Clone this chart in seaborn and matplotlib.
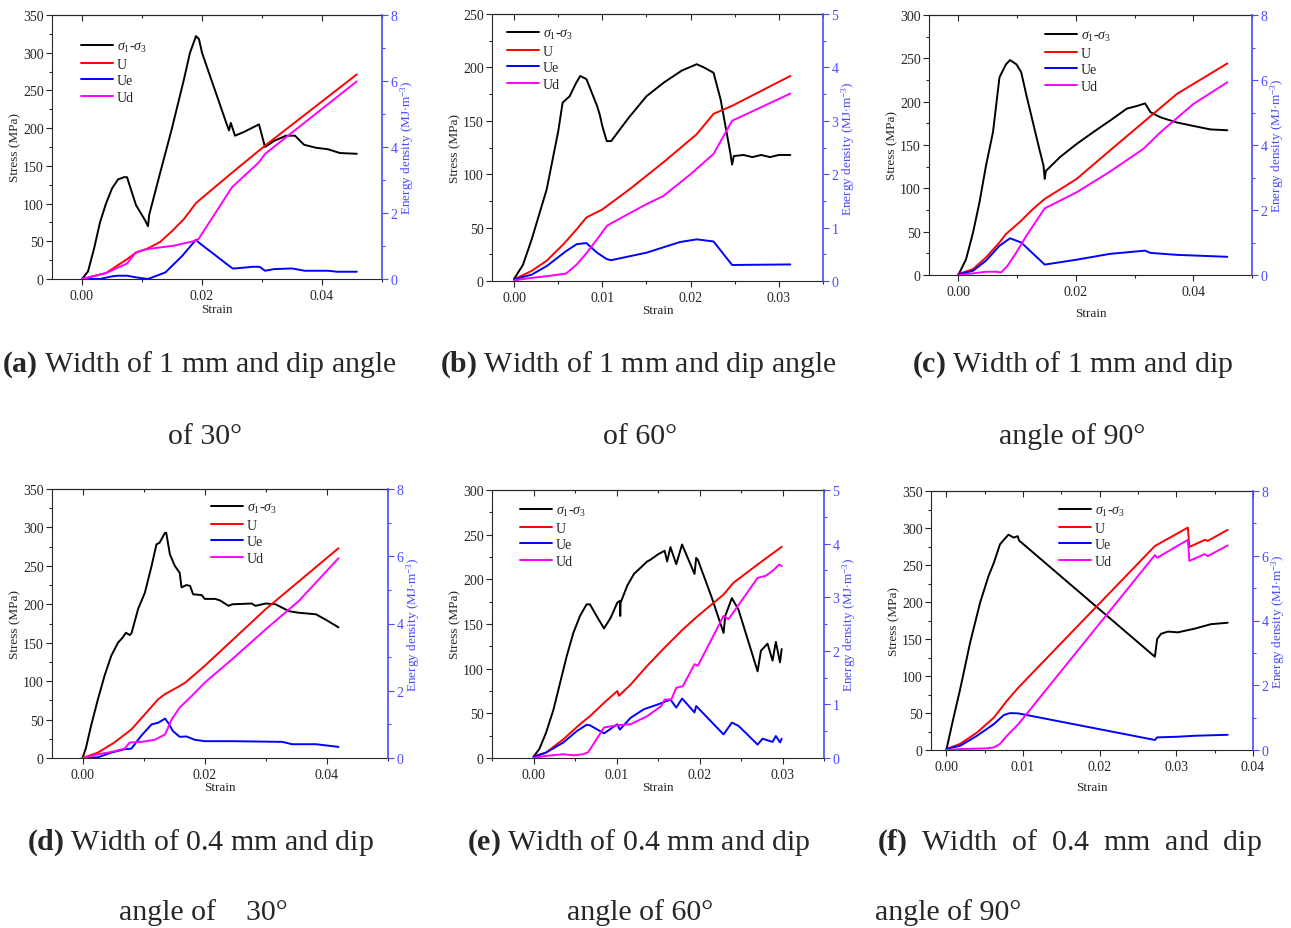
import numpy as np
import pandas as pd
import matplotlib
matplotlib.use("Agg")
import matplotlib.pyplot as plt
from matplotlib.ticker import MultipleLocator, StrMethodFormatter
import seaborn as sns

sns.set_style("ticks")
plt.rcParams['font.family'] = ['Liberation Serif', 'DejaVu Serif']
plt.rcParams['mathtext.fontset'] = 'custom'
plt.rcParams['mathtext.rm'] = 'Liberation Serif'
plt.rcParams['mathtext.it'] = 'Liberation Serif:italic'
plt.rcParams['mathtext.bf'] = 'Liberation Serif:bold'

# ---------------- data ----------------
# (a) width 1 mm, dip 30
a_s_x = [0, 0.001, 0.002, 0.003, 0.004, 0.005, 0.006, 0.007, 0.0075, 0.009, 0.0105, 0.011, 0.0112, 0.013, 0.015, 0.017, 0.018, 0.019, 0.0195, 0.020, 0.022, 0.024, 0.0245, 0.0248, 0.0255, 0.027, 0.0295, 0.0305, 0.032, 0.034, 0.0355, 0.037, 0.039, 0.041, 0.043, 0.0458]
a_s_y = [0, 10, 40, 75, 100, 120, 132, 135, 135, 98, 78, 70, 85, 140, 200, 265, 300, 322, 318, 300, 254, 208, 197, 207, 190, 195, 205, 175, 183, 190, 190, 178, 174, 172, 167, 166]
a_U_x = [0, 0.004, 0.006, 0.0075, 0.009, 0.011, 0.013, 0.015, 0.017, 0.019, 0.0195, 0.025, 0.0305, 0.0458]
a_U = [0, 0.18, 0.42, 0.6, 0.8, 0.93, 1.12, 1.45, 1.82, 2.3, 2.38, 3.22, 4.04, 6.2]
a_Ue_x = [0, 0.003, 0.005, 0.006, 0.0075, 0.009, 0.011, 0.0139, 0.0167, 0.019, 0.0195, 0.0245, 0.0251, 0.0255, 0.0285, 0.0296, 0.0305, 0.032, 0.035, 0.0371, 0.041, 0.0425, 0.0458]
a_Ue = [0, 0, 0.08, 0.1, 0.1, 0.05, 0, 0.2, 0.7, 1.19, 1.1, 0.4, 0.32, 0.32, 0.37, 0.37, 0.25, 0.3, 0.32, 0.25, 0.25, 0.22, 0.22]
a_Ud_x = [0, 0.004, 0.0075, 0.009, 0.011, 0.0153, 0.019, 0.0195, 0.025, 0.0295, 0.0305, 0.0458]
a_Ud = [0, 0.18, 0.47, 0.81, 0.91, 1.01, 1.16, 1.23, 2.78, 3.54, 3.79, 5.99]

# (b) width 1 mm, dip 60
b_s_x = [0, 0.001, 0.002, 0.0037, 0.005, 0.0055, 0.0063, 0.007, 0.0075, 0.0082, 0.0094, 0.0097, 0.010, 0.0105, 0.011, 0.013, 0.015, 0.017, 0.019, 0.0207, 0.0215, 0.0226, 0.0234, 0.0245, 0.0247, 0.0249, 0.026, 0.027, 0.028, 0.029, 0.030, 0.0313]
b_s_y = [2, 15, 39, 86, 140, 167, 173, 185, 192, 189, 164, 156, 145, 131, 131, 153, 173, 186, 197, 203, 200, 195, 170, 120, 109, 117, 118, 116, 118, 116, 118, 118]
b_U_x = [0, 0.002, 0.0037, 0.0056, 0.0071, 0.0082, 0.010, 0.0131, 0.0169, 0.0207, 0.0226, 0.0247, 0.0313]
b_U = [0.03, 0.19, 0.38, 0.69, 0.97, 1.19, 1.34, 1.72, 2.22, 2.75, 3.13, 3.28, 3.84]
b_Ue_x = [0, 0.002, 0.0037, 0.0059, 0.0071, 0.0082, 0.0094, 0.0105, 0.011, 0.015, 0.0188, 0.0207, 0.0226, 0.0247, 0.0313]
b_Ue = [0.03, 0.12, 0.28, 0.56, 0.69, 0.71, 0.53, 0.41, 0.39, 0.53, 0.73, 0.78, 0.74, 0.3, 0.31]
b_Ud_x = [0, 0.002, 0.0037, 0.0059, 0.0071, 0.0082, 0.0094, 0.0105, 0.011, 0.015, 0.0169, 0.020, 0.0226, 0.0247, 0.0313]
b_Ud = [0.01, 0.06, 0.09, 0.14, 0.31, 0.52, 0.78, 1.03, 1.08, 1.44, 1.59, 2.0, 2.38, 3.0, 3.51]

# (c) width 1 mm, dip 90
c_s_x = [0, 0.0013, 0.0025, 0.0036, 0.0047, 0.0059, 0.007, 0.0081, 0.0088, 0.0099, 0.0107, 0.0116, 0.0127, 0.0138, 0.0145, 0.0147, 0.0149, 0.0173, 0.0201, 0.023, 0.0258, 0.0287, 0.0304, 0.0318, 0.0327, 0.0344, 0.0372, 0.040, 0.0429, 0.0458]
c_s_y = [0, 18, 49, 84, 126, 165, 228, 243, 248, 243, 234, 207, 176, 145, 126, 111, 120, 136, 151, 165, 178, 192, 195, 198, 188, 182, 176, 172, 168, 167]
c_U_x = [0, 0.0025, 0.0047, 0.007, 0.0081, 0.0104, 0.0127, 0.0147, 0.0201, 0.0258, 0.0315, 0.0372, 0.0458]
c_U = [0.03, 0.18, 0.54, 1.0, 1.26, 1.62, 2.03, 2.34, 2.95, 3.83, 4.7, 5.57, 6.51]
c_Ue_x = [0, 0.0025, 0.0047, 0.007, 0.0088, 0.0107, 0.0147, 0.0201, 0.0258, 0.0318, 0.0327, 0.0372, 0.0458]
c_Ue = [0.02, 0.13, 0.44, 0.9, 1.13, 1.0, 0.32, 0.47, 0.65, 0.75, 0.68, 0.62, 0.56]
c_Ud_x = [0, 0.0025, 0.0047, 0.0064, 0.0073, 0.0084, 0.0099, 0.0116, 0.0147, 0.0201, 0.0258, 0.0315, 0.0344, 0.040, 0.0458]
c_Ud = [0, 0.05, 0.1, 0.1, 0.08, 0.29, 0.7, 1.21, 2.05, 2.54, 3.18, 3.88, 4.39, 5.26, 5.93]

# (d) width 0.4 mm, dip 30
d_s_x = [0, 0.00055, 0.0014, 0.0025, 0.0036, 0.0047, 0.0058, 0.0066, 0.0071, 0.0077, 0.008, 0.0091, 0.0102, 0.0113, 0.0121, 0.0126, 0.0135, 0.0137, 0.0143, 0.0151, 0.0159, 0.0162, 0.017, 0.0176, 0.0181, 0.0195, 0.020, 0.0217, 0.0225, 0.0239, 0.0245, 0.0277, 0.0283, 0.030, 0.0316, 0.0338, 0.0354, 0.0382, 0.0398, 0.0419]
d_s_y = [0, 13, 42, 76, 107, 133, 150, 157, 163, 160, 162, 194, 215, 250, 278, 280, 293, 293, 265, 250, 241, 222, 225, 224, 213, 212, 207, 207, 205, 198, 200, 201, 198, 201, 200, 191, 189, 187, 180, 170]
d_U_x = [0, 0.0025, 0.0052, 0.008, 0.0102, 0.0124, 0.0135, 0.0157, 0.0168, 0.020, 0.030, 0.0419]
d_U = [0, 0.16, 0.46, 0.85, 1.3, 1.75, 1.9, 2.12, 2.24, 2.74, 4.43, 6.24]
d_Ue_x = [0, 0.0025, 0.0047, 0.0069, 0.008, 0.0096, 0.0113, 0.0124, 0.0135, 0.014, 0.0148, 0.0159, 0.017, 0.0184, 0.020, 0.0245, 0.0327, 0.0343, 0.0382, 0.0419]
d_Ue = [0, 0.02, 0.16, 0.26, 0.28, 0.66, 1.0, 1.05, 1.17, 1.05, 0.8, 0.63, 0.64, 0.54, 0.5, 0.5, 0.48, 0.41, 0.41, 0.33]
d_Ud_x = [0, 0.0025, 0.0047, 0.0069, 0.0077, 0.0096, 0.0118, 0.0135, 0.0146, 0.0159, 0.0179, 0.020, 0.0245, 0.030, 0.0354, 0.0419]
d_Ud = [0, 0.11, 0.18, 0.28, 0.46, 0.48, 0.54, 0.7, 1.15, 1.5, 1.85, 2.24, 2.94, 3.83, 4.67, 5.94]

# (e) width 0.4 mm, dip 60
e_s_x = [0, 0.0007, 0.0015, 0.0024, 0.0032, 0.004, 0.0048, 0.0056, 0.0064, 0.0068, 0.0076, 0.0085, 0.0093, 0.0101, 0.0104, 0.01045, 0.0105, 0.0113, 0.0121, 0.0129, 0.0137, 0.0141, 0.015, 0.0158, 0.0161, 0.0165, 0.0172, 0.0179, 0.0194, 0.0196, 0.0198, 0.0215, 0.0229, 0.0231, 0.0239, 0.0247, 0.027, 0.0274, 0.0282, 0.0288, 0.0292, 0.0297, 0.0299]
e_s_y = [1.5, 10, 28, 54, 84, 114, 140, 159, 172, 172, 159, 145, 157, 174, 176, 159, 174, 193, 206, 213, 220, 222, 228, 232, 220, 236, 217, 239, 206, 224, 222, 179, 140, 159, 179, 166, 97, 120, 128, 109, 130, 107, 122]
e_U_x = [0, 0.0015, 0.0036, 0.0056, 0.0068, 0.0085, 0.0101, 0.0103, 0.0117, 0.0137, 0.0158, 0.018, 0.0198, 0.0229, 0.0241, 0.027, 0.0299]
e_U = [0.03, 0.1, 0.35, 0.63, 0.78, 1.03, 1.25, 1.16, 1.37, 1.72, 2.06, 2.4, 2.65, 3.05, 3.27, 3.61, 3.94]
e_Ue_x = [0, 0.0015, 0.0036, 0.0052, 0.0064, 0.0068, 0.0085, 0.0101, 0.0104, 0.0117, 0.0133, 0.015, 0.0165, 0.0172, 0.0179, 0.0194, 0.0196, 0.0229, 0.0239, 0.0247, 0.027, 0.0276, 0.0288, 0.0292, 0.0297, 0.0299]
e_Ue = [0.02, 0.1, 0.29, 0.5, 0.62, 0.61, 0.46, 0.63, 0.53, 0.75, 0.91, 1.0, 1.09, 0.94, 1.11, 0.85, 0.97, 0.44, 0.66, 0.6, 0.25, 0.36, 0.3, 0.41, 0.29, 0.36]
e_Ud_x = [0, 0.0015, 0.0036, 0.0048, 0.006, 0.0066, 0.0085, 0.0101, 0.0117, 0.0137, 0.0154, 0.0158, 0.0166, 0.0172, 0.018, 0.0194, 0.0198, 0.0229, 0.0235, 0.027, 0.028, 0.0288, 0.0296, 0.0299]
e_Ud = [0, 0.04, 0.07, 0.05, 0.07, 0.11, 0.57, 0.61, 0.63, 0.78, 0.97, 1.09, 1.09, 1.31, 1.34, 1.75, 1.72, 2.65, 2.59, 3.36, 3.4, 3.49, 3.61, 3.58]

# (f) width 0.4 mm, dip 90
f_s_x = [0, 0.0009, 0.0018, 0.0031, 0.0044, 0.0055, 0.0062, 0.007, 0.0075, 0.0081, 0.0088, 0.0093, 0.0095, 0.0272, 0.0275, 0.028, 0.0289, 0.0302, 0.0324, 0.0345, 0.0367]
f_s_y = [0, 42, 82, 145, 199, 235, 253, 278, 284, 291, 287, 289, 283, 126, 150, 157, 160, 159, 164, 170, 172]
f_U_x = [0, 0.0018, 0.004, 0.0062, 0.0079, 0.0094, 0.0272, 0.0315, 0.0317, 0.0337, 0.0341, 0.0367]
f_U = [0.03, 0.19, 0.54, 1.0, 1.52, 1.93, 6.3, 6.87, 6.27, 6.49, 6.46, 6.8]
f_Ue_x = [0, 0.0018, 0.004, 0.0062, 0.0075, 0.0083, 0.0094, 0.0272, 0.0275, 0.0302, 0.0324, 0.0367]
f_Ue = [0.03, 0.13, 0.44, 0.8, 1.08, 1.14, 1.13, 0.31, 0.39, 0.41, 0.44, 0.47]
f_Ud_x = [0, 0.0018, 0.0053, 0.0062, 0.007, 0.0079, 0.0094, 0.0272, 0.0275, 0.0315, 0.0317, 0.0337, 0.0341, 0.0367]
f_Ud = [0, 0.03, 0.05, 0.08, 0.19, 0.44, 0.8, 6.02, 5.94, 6.49, 5.84, 6.05, 5.99, 6.32]

series_labels = [r"$\sigma_1$-$\sigma_3$", "U", "Ue", "Ud"]
captions = [
    (r"$\mathbf{(a)}$ Width of 1 mm and dip angle", "of 30°"),
    (r"$\mathbf{(b)}$ Width of 1 mm and dip angle", "of 60°"),
    (r"$\mathbf{(c)}$ Width of 1 mm and dip", "angle of 90°"),
    (r"$\mathbf{(d)}$ Width of 0.4 mm and dip", "angle of    30°"),
    (r"$\mathbf{(e)}$ Width of 0.4 mm and dip", "angle of 60°"),
    (r"$\mathbf{(f)}$  Width  of  0.4  mm  and  dip", "angle of 90°"),
]

# ---------------- layout ----------------
W, H = 1291, 929
fig = plt.figure(figsize=(W / 100, H / 100), dpi=100)

def px_axes(l, t, r, b):
    return fig.add_axes([l / W, 1 - b / H, (r - l) / W, (b - t) / H])

panels = [
    dict(box=(52, 16, 382, 280), xlim=(-0.005, 0.05), xmaj=0.02, ylim=350, elim=8, emaj=2, leg=(81, 41), lpad=1,
         data=(a_s_x, a_s_y, a_U_x, a_U, a_Ue_x, a_Ue, a_Ud_x, a_Ud)),
    dict(box=(492, 15, 823, 282), xlim=(-0.0025, 0.035), xmaj=0.01, ylim=250, elim=5, emaj=1, leg=(507, 28), lpad=0,
         data=(b_s_x, b_s_y, b_U_x, b_U, b_Ue_x, b_Ue, b_Ud_x, b_Ud)),
    dict(box=(929, 16, 1252, 276), xlim=(-0.005, 0.05), xmaj=0.02, ylim=300, elim=8, emaj=2, leg=(1045, 30), lpad=7,
         data=(c_s_x, c_s_y, c_U_x, c_U, c_Ue_x, c_Ue, c_Ud_x, c_Ud)),
    dict(box=(52, 490, 388, 759), xlim=(-0.005, 0.05), xmaj=0.02, ylim=350, elim=8, emaj=2, leg=(211, 502), lpad=0,
         data=(d_s_x, d_s_y, d_U_x, d_U, d_Ue_x, d_Ue, d_Ud_x, d_Ud)),
    dict(box=(492, 491, 824, 759), xlim=(-0.005, 0.035), xmaj=0.01, ylim=300, elim=5, emaj=1, leg=(520, 505), lpad=0,
         data=(e_s_x, e_s_y, e_U_x, e_U, e_Ue_x, e_Ue, e_Ud_x, e_Ud)),
    dict(box=(931, 492, 1253, 751), xlim=(-0.002, 0.04), xmaj=0.01, ylim=350, elim=8, emaj=2, leg=(1059, 505), lpad=6,
         data=(f_s_x, f_s_y, f_U_x, f_U, f_Ue_x, f_Ue, f_Ud_x, f_Ud)),
]

right_col = '#4a4aff'
lw = 1.4
tick_fs = 10
lab_fs = 9.5

for p in panels:
    ax = px_axes(*p['box'])
    ax2 = ax.twinx()
    sx, sy, ux, u, uex, ue, udx, ud = p['data']
    sns.lineplot(x=sx, y=sy, ax=ax, color='black', lw=lw, sort=False, estimator=None)
    sns.lineplot(x=ux, y=u, ax=ax2, color='red', lw=lw, sort=False, estimator=None)
    sns.lineplot(x=uex, y=ue, ax=ax2, color='blue', lw=lw, sort=False, estimator=None)
    sns.lineplot(x=udx, y=ud, ax=ax2, color='magenta', lw=lw, sort=False, estimator=None)

    ax.set_xlim(*p['xlim'])
    ax.set_ylim(0, p['ylim'])
    ax2.set_ylim(0, p['elim'])
    ax.xaxis.set_major_locator(MultipleLocator(p['xmaj']))
    ax.xaxis.set_minor_locator(MultipleLocator(p['xmaj'] / 2))
    ax.yaxis.set_major_locator(MultipleLocator(50))
    ax.yaxis.set_minor_locator(MultipleLocator(25))
    ax2.yaxis.set_major_locator(MultipleLocator(p['emaj']))
    ax2.yaxis.set_minor_locator(MultipleLocator(p['emaj'] / 2))
    ax.xaxis.set_major_formatter(StrMethodFormatter('{x:.2f}'))

    ax.tick_params(axis='both', which='major', direction='out', length=4, width=0.8,
                   labelsize=tick_fs, pad=2)
    ax.tick_params(axis='both', which='minor', direction='out', length=2, width=0.8)
    ax.tick_params(axis='x', which='major', pad=3)
    # mirrored top ticks pointing inwards
    top = ax.secondary_xaxis('top')
    top.xaxis.set_major_locator(MultipleLocator(p['xmaj']))
    top.xaxis.set_minor_locator(MultipleLocator(p['xmaj'] / 2))
    top.tick_params(axis='x', which='major', direction='in', length=4, width=0.8, labeltop=False)
    top.tick_params(axis='x', which='minor', direction='in', length=2, width=0.8)
    top.spines['top'].set_linewidth(0.8)

    ax2.tick_params(axis='y', which='major', direction='out', length=4, width=0.8,
                    labelsize=tick_fs, colors=right_col, pad=2)
    ax2.tick_params(axis='y', which='minor', direction='out', length=2, width=0.8, colors=right_col)
    ax2.spines['right'].set_color(right_col)
    ax2.spines['right'].set_linewidth(1.2)
    for sp in ['left', 'bottom', 'top']:
        ax.spines[sp].set_linewidth(0.8)
        ax2.spines[sp].set_visible(False)
    ax.spines['right'].set_visible(False)

    ax.set_xlabel('Strain', fontsize=lab_fs, labelpad=p['lpad'])
    ax.set_ylabel('Stress (MPa)', fontsize=lab_fs, labelpad=1)
    ax2.set_ylabel(r'Energy density (MJ$\cdot$m$^{-3}$)', fontsize=lab_fs, color=right_col, labelpad=1)

    for a_ in (ax, ax2):
        if a_.get_legend() is not None:
            a_.get_legend().remove()
    handles = ax.get_lines()[:1] + ax2.get_lines()[:3]
    lx, ly = p['leg']
    fig.legend(handles, series_labels, loc='upper left', bbox_to_anchor=(lx / W, 1 - ly / H),
               bbox_transform=fig.transFigure, frameon=False, fontsize=10, handlelength=2.3,
               handletextpad=0.3, labelspacing=0.25, borderpad=0, borderaxespad=0)

# captions
cap_fs = 21.5
cap_pos = [
    ((2, 365), (205, 437)),
    ((440, 365), (640, 437)),
    ((912, 365), (1072, 437)),
    ((27, 843), (203, 913)),
    ((467, 843), (640, 913)),
    ((877, 843), (948, 913)),
]
for (l1, l2), (p1, p2) in zip(captions, cap_pos):
    fig.text(p1[0] / W, 1 - p1[1] / H, l1, fontsize=cap_fs, ha='left', va='center')
    fig.text(p2[0] / W, 1 - p2[1] / H, l2, fontsize=cap_fs, ha='center', va='center')

fig.savefig('out.png', dpi=100)
